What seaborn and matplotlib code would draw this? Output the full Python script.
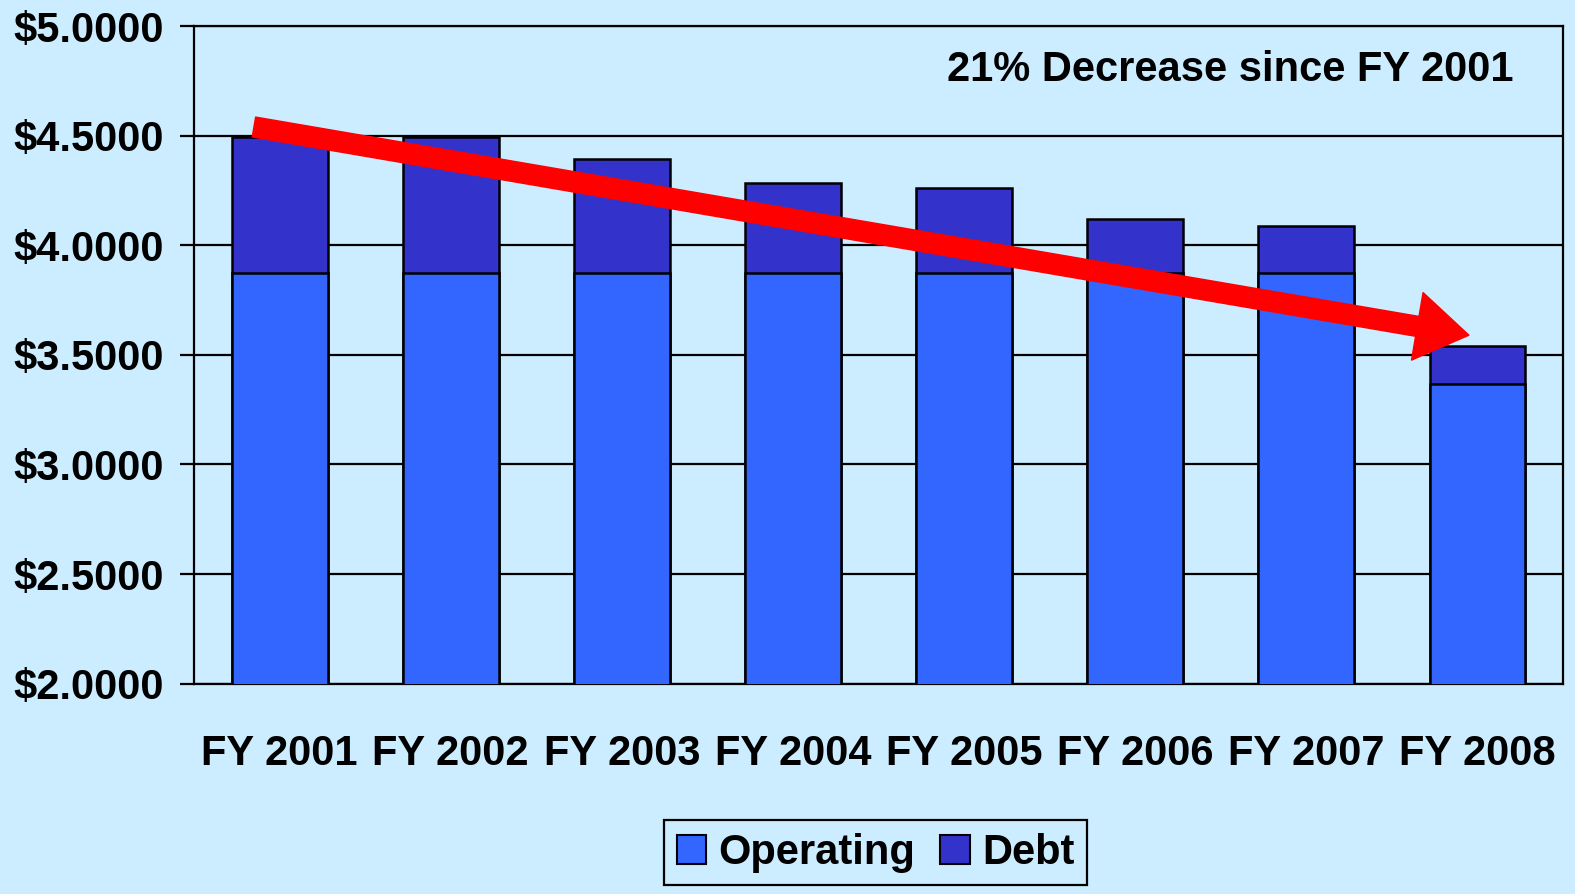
import matplotlib
matplotlib.use("Agg")
import matplotlib.pyplot as plt
import seaborn as sns
import numpy as np
import pandas as pd

years = ["FY 2001", "FY 2002", "FY 2003", "FY 2004", "FY 2005", "FY 2006", "FY 2007", "FY 2008"]
operating = [3.876, 3.876, 3.876, 3.876, 3.876, 3.876, 3.876, 3.368]
debt = [0.618, 0.620, 0.518, 0.407, 0.386, 0.244, 0.214, 0.174]
note = "21% Decrease since FY 2001"

bg = "#CCECFF"
c_op = "#3366FF"
c_debt = "#3333CC"

sns.set_style("white")
plt.rcParams['font.family'] = ['Liberation Sans', 'DejaVu Sans']
plt.rcParams['font.weight'] = 'bold'
plt.rcParams['text.color'] = 'black'
plt.rcParams['xtick.color'] = 'black'
plt.rcParams['ytick.color'] = 'black'

df = pd.DataFrame({'Year': years, 'Operating': operating, 'Debt': debt})
df['Total'] = df['Operating'] + df['Debt']

fig = plt.figure(figsize=(15.75, 8.94), dpi=100, facecolor=bg)
ax = fig.add_axes([0.1232, 0.2353, 0.8692, 0.7354])
ax.set_facecolor(bg)

# stacked look: total bar in debt colour, operating drawn on top
sns.barplot(data=df, x='Year', y='Total', color=c_debt, width=0.56,
            edgecolor='black', linewidth=1.8, saturation=1, ax=ax, zorder=3)
sns.barplot(data=df, x='Year', y='Operating', color=c_op, width=0.56,
            edgecolor='black', linewidth=1.8, saturation=1, ax=ax, zorder=4)

ax.set_ylim(2.0, 5.0)
ax.set_xlim(-0.5, 7.5)
yt = np.arange(2.0, 5.01, 0.5)
ax.set_yticks(yt)
ax.set_yticklabels(["${:.4f}".format(v) for v in yt])
ax.yaxis.grid(True, color='black', linewidth=1.6, zorder=1)
ax.set_axisbelow(True)

ax.set_xticks(np.arange(len(years)))
ax.set_xticklabels(years)
ax.set_xticks(np.arange(-0.5, len(years), 1), minor=True)
ax.tick_params(axis='x', which='major', length=0, pad=36, labelsize=30, labelcolor='black')
ax.tick_params(axis='x', which='minor', length=10, width=1.6, direction='out', color='black')
ax.tick_params(axis='y', length=10, width=1.6, direction='out', color='black', pad=12,
               labelsize=30, labelcolor='black', left=True)
for lab in ax.get_xticklabels() + ax.get_yticklabels():
    lab.set_fontweight('bold')

for s in ax.spines.values():
    s.set_color('black')
    s.set_linewidth(1.6)

ax.set_xlabel('')
ax.set_ylabel('')

# trend arrow
ax.annotate("", xy=(6.95, 3.59), xytext=(-0.15, 4.54),
            arrowprops=dict(arrowstyle="simple,head_length=2.6,head_width=3.4,tail_width=1.0",
                            color='red', mutation_scale=14.5, shrinkA=0, shrinkB=0),
            zorder=6)

ax.text(7.21, 4.80, note, ha='right', va='center', fontsize=30, fontweight='bold', color='black', zorder=7)

handles = [plt.Rectangle((0, 0), 1, 1, facecolor=c_op, edgecolor='black', linewidth=1.5),
           plt.Rectangle((0, 0), 1, 1, facecolor=c_debt, edgecolor='black', linewidth=1.5)]
leg = fig.legend(handles, ['Operating', 'Debt'], loc='center', bbox_to_anchor=(0.556, 0.046),
                 ncol=2, frameon=True, fancybox=False, edgecolor='black', facecolor=bg,
                 prop={'size': 30, 'weight': 'bold'}, handlelength=0.7, handleheight=0.7,
                 handletextpad=0.3, columnspacing=0.6, borderpad=0.3, framealpha=1,
                 labelcolor='black')
leg.get_frame().set_linewidth(1.6)

fig.savefig("out.png", dpi=100, facecolor=bg)
